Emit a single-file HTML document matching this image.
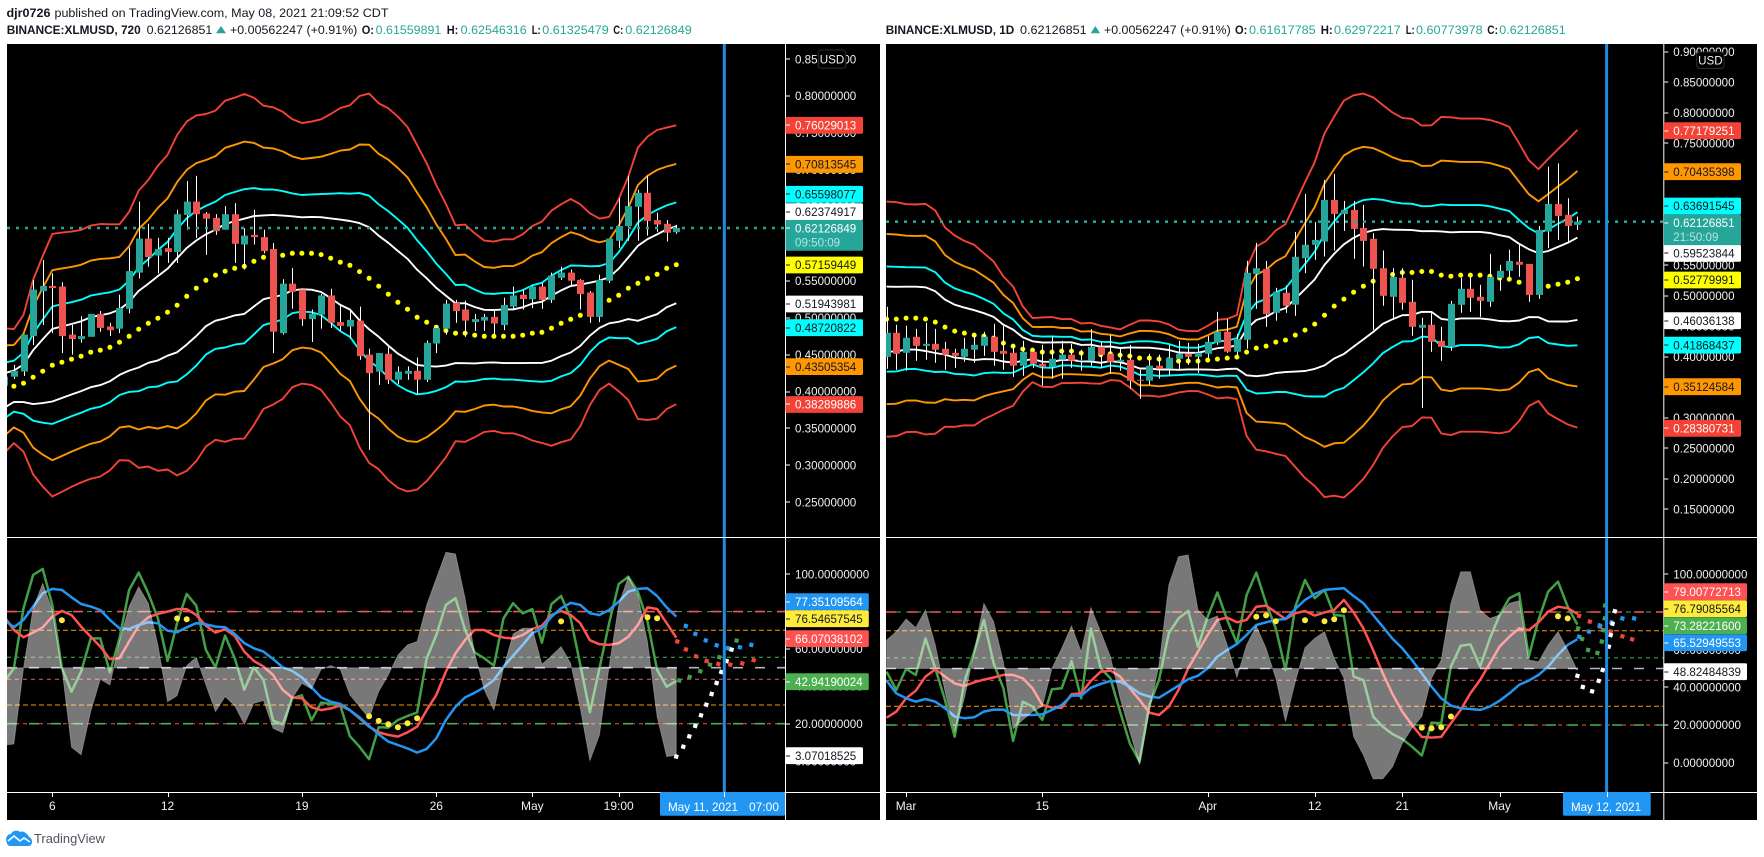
<!DOCTYPE html>
<html lang="en">
<head>
<meta charset="utf-8">
<title>XLMUSD charts</title>
<style>
html,body{margin:0;padding:0;background:#fff;}
svg{display:block;font-family:"Liberation Sans",sans-serif;}
</style>
</head>
<body>
<svg id="root" xmlns="http://www.w3.org/2000/svg" width="1764" height="857" viewBox="0 0 1764 857">
  <rect x="0" y="0" width="1764" height="857" fill="#ffffff"/>
  <g font-size="12.4" fill="#131722">
    <text x="6.5" y="17" font-weight="bold" textLength="44" lengthAdjust="spacingAndGlyphs">djr0726</text>
    <text x="54.5" y="17" textLength="334" lengthAdjust="spacingAndGlyphs">published on TradingView.com, May 08, 2021 21:09:52 CDT</text>
  </g>
  <g font-size="12.2" fill="#131722">
    <text x="6.7" y="34" font-weight="bold" textLength="134" lengthAdjust="spacingAndGlyphs">BINANCE:XLMUSD, 720</text>
    <text x="146.7" y="34" textLength="65.6" lengthAdjust="spacingAndGlyphs">0.62126851</text>
    <polygon points="216,33.3 221,26 226,33.3" fill="#26a69a"/>
    <text x="230" y="34" textLength="127.3" lengthAdjust="spacingAndGlyphs">+0.00562247 (+0.91%)</text>
    <text x="361.7" y="34" font-weight="bold" textLength="12.3" lengthAdjust="spacingAndGlyphs">O:</text>
    <text x="375.7" y="34" fill="#26a69a" textLength="65.6" lengthAdjust="spacingAndGlyphs">0.61559891</text>
    <text x="446.7" y="34" font-weight="bold" textLength="11.6" lengthAdjust="spacingAndGlyphs">H:</text>
    <text x="460.7" y="34" fill="#26a69a" textLength="66" lengthAdjust="spacingAndGlyphs">0.62546316</text>
    <text x="531.7" y="34" font-weight="bold" textLength="9" lengthAdjust="spacingAndGlyphs">L:</text>
    <text x="542.3" y="34" fill="#26a69a" textLength="66.4" lengthAdjust="spacingAndGlyphs">0.61325479</text>
    <text x="613.3" y="34" font-weight="bold" textLength="10" lengthAdjust="spacingAndGlyphs">C:</text>
    <text x="625.3" y="34" fill="#26a69a" textLength="66.4" lengthAdjust="spacingAndGlyphs">0.62126849</text>
  </g>
  <g font-size="12.2" fill="#131722">
    <text x="885.7" y="34" font-weight="bold" textLength="128.6" lengthAdjust="spacingAndGlyphs">BINANCE:XLMUSD, 1D</text>
    <text x="1020" y="34" textLength="66.7" lengthAdjust="spacingAndGlyphs">0.62126851</text>
    <polygon points="1090.7,33.3 1095.4,26 1100,33.3" fill="#26a69a"/>
    <text x="1104" y="34" textLength="126.7" lengthAdjust="spacingAndGlyphs">+0.00562247 (+0.91%)</text>
    <text x="1235" y="34" font-weight="bold" textLength="12.3" lengthAdjust="spacingAndGlyphs">O:</text>
    <text x="1249" y="34" fill="#26a69a" textLength="66.7" lengthAdjust="spacingAndGlyphs">0.61617785</text>
    <text x="1320.7" y="34" font-weight="bold" textLength="12" lengthAdjust="spacingAndGlyphs">H:</text>
    <text x="1334" y="34" fill="#26a69a" textLength="66.7" lengthAdjust="spacingAndGlyphs">0.62972217</text>
    <text x="1405.7" y="34" font-weight="bold" textLength="9" lengthAdjust="spacingAndGlyphs">L:</text>
    <text x="1416" y="34" fill="#26a69a" textLength="66.7" lengthAdjust="spacingAndGlyphs">0.60773978</text>
    <text x="1487.3" y="34" font-weight="bold" textLength="10.7" lengthAdjust="spacingAndGlyphs">C:</text>
    <text x="1499.3" y="34" fill="#26a69a" textLength="66.4" lengthAdjust="spacingAndGlyphs">0.62126851</text>
  </g>
  <g>
    <path d="M6.5 842 C5 837 8 834 11 834 C13 830 18 830 20 832 C23 830 28 834 29 837 C32 838 33 842 31 845 C30 846 29 846 28 846 L10 846 C8 846 7 844 6.5 842 Z" fill="#2196f3"/>
    <path d="M8 841 L14 836 L20 841 L24 838 L30 842" fill="none" stroke="#ffffff" stroke-width="1.6"/>
    <text x="34" y="843" font-size="13" fill="#50535e" textLength="71" lengthAdjust="spacingAndGlyphs">TradingView</text>
  </g>
  <defs>
    <clipPath id="clip-l-main"><rect x="7" y="44" width="778" height="493"/></clipPath>
    <clipPath id="clip-l-osc"><rect x="7" y="538" width="778" height="254"/></clipPath>
    <clipPath id="clip-r-main"><rect x="886" y="44" width="777.3" height="493"/></clipPath>
    <clipPath id="clip-r-osc"><rect x="886" y="538" width="777.3" height="254"/></clipPath>
  </defs>
</svg>
<script>
/* ---------- LEFT CHART (720 minute) ---------- */
const L_OPEN = [.408,.420,.427,.475,.536,.543,.542,.477,.471,.474,
.505,.488,.485,.512,.561,.607,.584,.594,.589,.639,
.657,.641,.635,.619,.640,.599,.612,.609,.593,.479,
.546,.538,.498,.504,.530,.494,.488,.496,.450,.427,
.451,.416,.424,.428,.416,.465,.485,.520,.511,.494,
.496,.501,.490,.515,.531,.525,.542,.524,.554,.561,
.551,.534,.501,.550,.604,.624,.650,.669,.632,.627,.6156];
const L_HIGH = [.425,.436,.477,.551,.578,.560,.548,.490,.502,.505,
.509,.493,.531,.595,.657,.627,.608,.608,.646,.685,
.692,.643,.640,.651,.655,.621,.646,.619,.601,.552,
.567,.538,.511,.532,.539,.517,.511,.515,.458,.452,
.460,.434,.434,.446,.469,.490,.524,.524,.523,.505,
.505,.511,.527,.542,.538,.543,.547,.561,.569,.565,
.552,.536,.558,.607,.662,.692,.673,.692,.642,.632,.6255];
const L_LOW = [.402,.417,.421,.463,.490,.479,.452,.450,.466,.474,
.481,.475,.479,.506,.553,.569,.560,.574,.574,.619,
.608,.585,.612,.619,.574,.565,.599,.587,.452,.477,
.512,.489,.467,.485,.486,.482,.472,.443,.321,.409,
.410,.410,.416,.396,.413,.452,.477,.493,.474,.482,
.482,.477,.483,.511,.511,.513,.512,.520,.551,.544,
.511,.493,.494,.547,.594,.604,.604,.611,.616,.603,.6133];
const L_CLOSE = [.420,.428,.477,.538,.543,.540,.475,.471,.475,.505,
.486,.483,.513,.563,.607,.582,.593,.589,.640,.657,
.640,.634,.617,.640,.600,.611,.609,.590,.481,.546,
.535,.498,.505,.530,.493,.489,.497,.448,.425,.452,
.416,.427,.428,.416,.466,.486,.519,.509,.496,.498,
.501,.492,.517,.530,.525,.542,.524,.557,.561,.550,
.532,.501,.551,.607,.624,.651,.669,.631,.626,.615,.6213];
const L_BASIS = [.4013,.4072,.4112,.4194,.4275,.4356,.4397,.4437,.4478,.4532,
.4559,.4599,.4667,.4748,.4843,.4924,.4992,.5073,.5168,.5289,
.5398,.5506,.5574,.5628,.5668,.5695,.5763,.5817,.5835,.5844,
.5871,.5871,.5871,.5853,.5804,.5750,.5709,.5623,.5533,.5425,
.5317,.5208,.5114,.5005,.4938,.4870,.4825,.4789,.4789,.4762,
.4748,.4748,.4748,.4748,.4762,.4789,.4802,.4857,.4924,.4978,
.5032,.5114,.5181,.5235,.5303,.5398,.5465,.5533,.5587,.5668,.5716];
const L_RED_UPPER = [.4857,.4843,.5037,.5510,.5835,.6133,.6151,.6164,.6187,.6246,
.6268,.6264,.6264,.6431,.6719,.6863,.7057,.7202,.7472,.7653,
.7738,.7756,.7802,.7937,.7977,.8027,.7977,.7869,.7847,.7788,
.7684,.7635,.7653,.7684,.7756,.7838,.7874,.8000,.8032,.7901,
.7833,.7720,.7581,.7337,.7089,.6796,.6539,.6250,.6259,.6142,
.6043,.6029,.6061,.6061,.6128,.6241,.6300,.6449,.6534,.6606,
.6534,.6412,.6340,.6363,.6602,.6909,.7301,.7450,.7540,.7572,.7603];
const L_GREEN = [42.5,49.7,81.8,99.6,102.9,83.6,49.7,37.2,47.9,65.7,
65.7,47.5,65.7,91.6,100.9,89.8,76.4,53.6,73.8,89.5,
83.2,59.5,50.2,67.2,55.0,38.2,50.2,43.4,21.6,19.7,
33.6,35.2,21.8,31.3,30.6,29.7,13.3,7.7,1.0,18.1,
17.9,22.0,24.1,26.0,55.0,67.5,83.6,87.2,70.2,58.2,
55.0,51.1,76.4,84.5,79.1,81.4,63.4,84.1,88.4,76.4,
51.5,26.1,49.7,73.8,94.8,98.7,90.7,74.7,48.8,39.8,42.94];
const L_RED = [77.3,70.2,66.3,68.8,71.6,77.3,80.4,78.2,72.0,66.6,
61.3,54.6,55.0,64.0,72.5,77.0,78.8,80.0,81.4,81.3,
78.2,72.5,68.8,70.6,67.0,58.6,53.6,50.6,46.1,38.1,
34.0,33.6,28.8,27.3,28.2,29.8,27.2,22.9,18.4,15.4,
14.0,13.1,15.4,18.4,27.3,35.4,47.9,57.7,64.8,70.2,
70.2,67.5,66.1,65.6,67.5,70.7,72.5,78.2,80.4,78.2,
73.8,64.7,62.5,62.2,63.1,66.6,72.9,82.3,81.4,73.8,66.07];
const L_BLUE = [75.6,71.6,75.6,82.7,89.8,92.2,91.6,87.7,84.1,82.7,
80.9,75.6,71.1,70.7,72.9,74.3,73.8,69.8,69.0,71.6,
73.8,73.2,72.0,71.6,68.1,63.1,60.4,58.6,54.6,50.2,
48.2,44.8,39.5,34.1,31.8,30.6,27.3,23.4,18.8,14.3,
10.4,8.6,6.8,4.5,6.5,12.2,22.0,29.1,34.1,36.6,
39.5,43.4,50.6,56.4,62.2,68.4,71.1,77.3,81.8,84.7,
83.6,79.1,78.2,80.9,85.4,90.7,92.2,92.5,88.4,82.3,77.35];
const L_GRAY = [8.6,9.1,49.7,81.8,95.2,80.9,49.7,7.4,3.3,26.5,
43.8,40.7,64.0,82.7,93.4,84.5,62.2,31.8,35.0,51.1,
55.6,40.7,26.5,34.5,29.7,19.7,30.9,32.4,17.5,15.2,
33.6,41.6,38.6,49.1,51.1,49.1,35.4,29.1,22.9,37.2,
46.1,56.8,62.2,64.0,83.6,97.8,111.8,110.9,87.2,57.7,
38.1,27.3,49.7,68.1,71.1,71.1,51.8,56.4,61.3,52.3,
28.2,0.2,14.0,50.6,83.6,98.7,88.9,64.0,23.8,2.4,3.07];
const L_SIGNAL_BARS = [6,18,19,38,39,40,41,42,43,58,67,68];
const L_SIGNAL_VALUES = [75.4,76.4,75.9,24.0,21.5,19.7,18.1,20.2,22.9,74.8,77.0,76.5];
const L_FC_BLUE_AHEAD = [.99,1.98,3.06,4.2,5.45,6.63,7.81];
const L_FC_BLUE = [72.3,68.1,64.6,62.0,60.4,60.9,62.2];
const L_FC_RED_AHEAD = [.1,1,2.05,3.16,4.38,5.63,6.88,8.06];
const L_FC_RED = [64.0,59.8,56.1,53.6,52.0,51.6,52.3,54.0];
const L_FC_GREEN_AHEAD = [.31,1.39,2.5,3.51,4.48,5.35,6.28];
const L_FC_GREEN = [43.2,45.0,48.1,51.6,55.6,60.4,64.5];
const L_FC_WHITE_AHEAD = [0,.73,1.35,1.98,2.57,3.13,3.68,4.2,4.69,5.24,5.76];
const L_FC_WHITE = [2.4,7.7,13.2,18.8,24.5,30.2,35.9,41.8,47.7,53.6,59.7];
const L_PRICE_TICKS = [.85,.80,.75,.70,.65,.60,.55,.50,.45,.40,.35,.30,.25];
const L_OSC_TICKS = [100,80,60,40,20,0];
const L_XTICK_BARS = [5,17,31,45,55,64];
const L_XTICK_LABELS = ['6','12','19','26','May','19:00'];
const L_PRICE_LABELS = [0.76029013,0.70813545,0.65598077,0.62374917,0.57159449,0.51943981,0.48720822,0.43505354,0.38289886];
const L_OSC_LABELS = [77.35109564,76.54657545,66.07038102,42.94190024,3.07018525];
const L_LAST = 0.62126849;

/* ---------- RIGHT CHART (1 day) ---------- */
const R_OPEN = [.3999,.4392,.4064,.4327,.4179,.4212,.4130,.4064,.3999,.4114,
.4179,.4327,.4097,.4064,.3852,.4081,.3884,.3835,.3950,.4032,
.3933,.3933,.4163,.4048,.3917,.3950,.3622,.3606,.3852,.3802,
.3966,.4048,.3999,.4048,.4228,.4408,.4081,.4277,.5358,.5440,
.4720,.5047,.4851,.5615,.5834,.5888,.6571,.6341,.6407,.6112,
.5932,.5451,.4982,.5293,.4900,.4474,.4523,.4261,.4163,.4851,
.5113,.4982,.4900,.5293,.5408,.5555,.5522,.5014,.6052,.6505,
.6325,.6162];
const R_HIGH = [.4818,.4523,.4507,.4458,.4556,.4458,.4245,.4130,.4310,.4359,
.4408,.4539,.4507,.4195,.4261,.4130,.4195,.4343,.4261,.4212,
.4114,.4452,.4245,.4354,.4130,.4195,.3786,.4048,.4032,.4195,
.4261,.4228,.4212,.4337,.4736,.4616,.4376,.5571,.5866,.5571,
.5129,.5162,.6046,.6669,.6210,.6898,.6996,.6554,.6554,.6489,
.6025,.5741,.5451,.5451,.5260,.4638,.4720,.4490,.4916,.5293,
.5309,.5178,.5686,.5506,.5752,.5834,.5522,.6145,.7117,.7171,
.6598,.6297];
const R_LOW = [.3802,.3786,.3770,.3933,.3950,.3901,.3786,.3819,.3917,.3901,
.4015,.3852,.3786,.3671,.3688,.3819,.3524,.3639,.3639,.3819,
.3770,.3852,.3819,.3720,.3770,.3475,.3311,.3540,.3639,.3688,
.3770,.3868,.3737,.3950,.4195,.4064,.4015,.4130,.4785,.4490,
.4589,.4720,.4671,.5369,.5588,.5642,.5741,.6063,.5604,.5479,
.4441,.4834,.4638,.4769,.4343,.3158,.4081,.3933,.4097,.4720,
.4736,.4654,.4818,.5080,.5260,.5309,.4900,.4949,.5779,.5915,
.5861,.6077];
const R_CLOSE = [.4392,.4048,.4310,.4179,.4212,.4114,.4032,.4015,.4130,.4195,
.4327,.4081,.4048,.3852,.4081,.3884,.3835,.3966,.4032,.3933,
.3944,.4163,.4032,.3917,.3950,.3606,.3606,.3852,.3802,.3983,
.4048,.3999,.4064,.4245,.4408,.4081,.4294,.5375,.5451,.4703,
.5064,.4834,.5637,.5834,.5915,.6571,.6341,.6407,.6096,.5899,
.5440,.4998,.5309,.4883,.4490,.4523,.4245,.4163,.4867,.5113,
.4965,.4916,.5309,.5408,.5571,.5506,.5014,.6079,.6505,.6309,
.6145,.6213];
const R_BASIS = [.4616,.4616,.4632,.4632,.4616,.4567,.4485,.4419,.4387,.4354,
.4337,.4305,.4223,.4174,.4125,.4108,.4075,.4075,.4092,.4092,
.4059,.4059,.4032,.4048,.4026,.4010,.3977,.3977,.3961,.3950,
.3928,.3928,.3928,.3944,.3961,.3977,.3993,.4075,.4141,.4174,
.4239,.4272,.4354,.4436,.4534,.4681,.4829,.4944,.5058,.5156,
.5238,.5315,.5348,.5380,.5380,.5397,.5397,.5337,.5320,.5337,
.5337,.5337,.5320,.5288,.5271,.5222,.5206,.5173,.5156,.5189,
.5222,.5278];
const R_RED_UPPER = [.6544,.6533,.6500,.6495,.6506,.6396,.6118,.5987,.5899,.5834,
.5697,.5561,.5315,.5151,.4824,.4633,.4644,.4649,.4616,.4616,
.4545,.4556,.4507,.4480,.4447,.4524,.4594,.4594,.4578,.4529,
.4442,.4420,.4420,.4507,.4605,.4622,.4682,.5452,.5807,.5899,
.6069,.6172,.6516,.6860,.7188,.7663,.7936,.8198,.8285,.8313,
.8253,.8127,.8002,.7914,.7898,.7789,.7794,.7931,.7925,.7903,
.7903,.7903,.7881,.7832,.7767,.7499,.7221,.7073,.7243,.7401,
.7554,.7718];
const R_GREEN = [48.3,38.6,49.8,46.6,66.0,50.1,33.3,13.8,43.0,59.0,
75.8,52.8,39.5,11.5,32.4,29.8,22.7,39.0,39.5,54.0,
34.2,71.3,50.1,44.8,27.1,10.3,0.6,30.6,43.9,68.7,
76.6,80.5,61.6,77.5,90.4,75.8,63.4,89.0,100.9,84.6,
71.3,49.2,82.8,97.0,87.3,91.7,78.4,77.9,45.7,43.9,
24.5,19.1,15.2,12.6,8.5,3.8,21.3,20.9,51.0,62.1,
62.8,51.0,66.0,78.4,87.3,89.9,56.3,75.8,90.8,96.1,
82.8,73.28];
const R_RED = [23.9,27.1,34.2,38.2,45.7,49.6,45.7,42.1,40.7,42.7,
44.1,45.2,46.6,46.6,44.8,39.5,30.6,29.2,29.2,36.3,
36.9,43.4,48.3,48.9,45.7,39.5,33.3,26.6,25.3,29.8,
38.6,50.1,59.0,67.8,75.8,77.0,74.5,75.8,82.8,83.4,
79.8,76.3,79.3,80.5,78.1,79.8,81.1,86.4,79.8,71.3,
59.8,47.4,36.3,27.1,20.0,13.7,13.3,13.7,20.9,28.0,
36.9,43.9,52.8,61.6,66.9,71.3,70.4,74.5,80.2,82.8,
82.0,79.0];
const R_BLUE = [43.6,36.8,34.2,32.4,33.8,32.4,28.9,24.5,23.6,24.1,
27.1,28.2,28.2,25.3,25.3,25.3,25.7,28.0,30.6,35.6,
35.6,39.8,41.8,43.4,43.0,40.4,36.8,35.1,34.5,37.7,
40.9,44.3,46.2,50.1,56.3,59.8,63.0,67.8,73.1,74.5,
75.8,76.3,81.6,86.4,89.6,91.7,92.2,92.6,88.5,84.6,
78.4,72.2,65.7,60.7,54.5,47.4,40.4,34.2,30.3,28.9,
28.5,28.0,29.8,32.9,36.8,41.3,43.6,46.6,51.0,57.2,
62.5,65.53];
const R_GRAY = [65.1,69.6,76.3,71.7,81.1,62.5,37.7,16.5,34.2,59.0,
84.6,74.9,53.6,17.9,22.7,27.1,29.8,50.1,60.7,72.6,
59.0,82.3,69.6,56.3,34.2,16.5,-1.2,27.1,51.9,94.3,
109.4,110.3,81.1,75.8,77.9,62.5,45.2,62.5,72.6,60.7,
44.8,21.8,43.0,61.1,66.0,69.6,55.4,44.8,13.8,4.1,
-8.6,-8.6,-2.1,10.3,18.3,24.5,44.8,54.5,84.6,101.4,
101.4,81.1,76.6,78.4,84.6,86.0,54.5,53.6,62.5,69.6,
59.8,48.82];
const R_SIGNAL_BARS = [38,39,40,43,45,46,47,55,56,57,58,69,70];
const R_SIGNAL_VALUES = [77.5,78.2,75.1,75.6,75.1,76.1,80.9,18.6,18.2,18.8,24.5,77.7,76.6];
const R_FC_BLUE_AHEAD = [.17,1.2,2.29,3.49,4.62,5.82];
const R_FC_BLUE = [66.9,69.6,72.8,74.5,76.6,76.6];
const R_FC_RED_AHEAD = [.17,1.27,2.33,3.42,4.62,5.62];
const R_FC_RED = [77.9,74.9,72.2,69.6,67.1,65.5];
const R_FC_GREEN_AHEAD = [.07,.48,1.1,2.05,2.5,2.64,2.81,2.84];
const R_FC_GREEN = [71.3,65.7,59.8,58.3,64.3,70.4,76.6,83.4];
const R_FC_WHITE_AHEAD = [0,.55,1.51,2.19,2.6,3.22,3.42,3.6,3.84];
const R_FC_WHITE = [46.1,40.2,37.9,43.4,49.2,61.6,67.8,73.8,80.4];
const R_PRICE_TICKS = [.90,.85,.80,.75,.70,.65,.60,.55,.50,.45,.40,.35,.30,.25,.20,.15];
const R_OSC_TICKS = [100,80,60,40,20,0];
const R_XTICK_BARS = [2,16,33,44,53,63];
const R_XTICK_LABELS = ['Mar','15','Apr','12','21','May'];
const R_PRICE_LABELS = [0.77179251,0.70435398,0.63691545,0.59523844,0.52779991,0.46036138,0.41868437,0.35124584,0.28380731];
const R_OSC_LABELS = [79.00772713,76.79085564,73.28221600,65.52949553,48.82484839];
const R_LAST = 0.62126851;

/* ---------- shared ---------- */
const BAND_RATIOS = [1, 1.618, 2.618, 3.618];
const OSC_LEVELS = [80, 70, 55.6, 50, 43.8, 30, 20];

const NS = 'http://www.w3.org/2000/svg';
const root = document.getElementById('root');
function mk(tag, attrs, parent) {
  const el = document.createElementNS(NS, tag);
  for (const k in attrs) el.setAttribute(k, attrs[k]);
  (parent || root).appendChild(el);
  return el;
}
function lineD(vals, xf, yf) {
  return vals.map((v, i) => (i ? 'L' : 'M') + xf(i).toFixed(1) + ' ' + yf(v).toFixed(1)).join(' ');
}

function drawChart(c) {
  const panel = mk('g', {});
  
  

  const bg = mk('rect', {x: c.left, y: 44, width: c.right - c.left, height: 776, fill: '#000'}, panel);
  
  

  const xs = i => c.x0 + c.step * i;
  const py = p => c.p0 + (c.pRef - p) * c.pScale;
  const oy = v => 574.3 + (100 - v) * c.oScale;
  const n = c.basis.length;

  /* ===== main pane ===== */
  const main = mk('g', {'clip-path': 'url(#clip-' + c.short + '-main)'}, panel);
  
  

  const dev = c.redUpper.map((r, i) => (r - c.basis[i]) / BAND_RATIOS[3]);
  const bandColors = ['#ffffff', '#00ffff', '#ff9800', '#f44336'];
  const bandNames = ['white', 'cyan', 'orange', 'red'];
  BAND_RATIOS.forEach((ratio, k) => {
    [1, -1].forEach(sign => {
      const vals = c.basis.map((b, i) => b + sign * ratio * dev[i]);
      const path = mk('path', {d: lineD(vals, xs, py), fill: 'none', stroke: bandColors[k], 'stroke-width': 1.9, 'stroke-linejoin': 'round'}, main);
      
      
    });
  });

  c.basis.forEach((b, i) => {
    const dot = mk('circle', {cx: xs(i).toFixed(1), cy: py(b).toFixed(1), r: 2.5, fill: '#ffff00'}, main);
    
    
  });

  for (let i = 0; i < n; i++) {
    const up = c.close[i] >= c.open[i];
    const cx = Math.round(xs(i));
    const wick = mk('rect', {x: cx, y: py(c.high[i]).toFixed(1), width: 1, height: (py(c.low[i]) - py(c.high[i])).toFixed(1), fill: '#fff'}, main);
    
    
    const top = py(Math.max(c.open[i], c.close[i]));
    const bot = py(Math.min(c.open[i], c.close[i]));
    const body = mk('rect', {x: cx - 3, y: top.toFixed(1), width: 7, height: Math.max(1, bot - top).toFixed(1), fill: up ? '#26a69a' : '#ef5350'}, main);
    
    
  }

  /* ===== oscillator pane ===== */
  const osc = mk('g', {'clip-path': 'url(#clip-' + c.short + '-osc)'}, panel);
  
  

  const levelStyles = [
    [['#4caf50', '5 5', 1], ['#ff5252', '10 12', 1.6]],
    [['#ff9800', '5 3', 1]],
    [['#4caf50', '4 4', 1]],
    [['#b2b5be', '10 12', 1.6]],
    [['#ff5252', '4 4', 1]],
    [['#ff9800', '5 3', 1]],
    [['#ff5252', '4 4', 1], ['#4caf50', '10 12', 1.6]]
  ];
  OSC_LEVELS.forEach((lv, k) => {
    levelStyles[k].forEach(st => {
      const ln = mk('line', {x1: c.left, x2: c.axisX, y1: oy(lv).toFixed(1), y2: oy(lv).toFixed(1), stroke: st[0], 'stroke-dasharray': st[1], 'stroke-width': st[2]}, osc);
      
      
    });
  });

  const oscSeries = [[c.green, '#43a047', 'green'], [c.red, '#ff5252', 'red'], [c.blue, '#2196f3', 'blue']];
  oscSeries.forEach(s => {
    const path = mk('path', {d: lineD(s[0], xs, oy), fill: 'none', stroke: s[1], 'stroke-width': 2.5, 'stroke-linejoin': 'round'}, osc);
    
    
  });

  const y50 = oy(50).toFixed(1);
  const grayD = 'M' + xs(0).toFixed(1) + ' ' + y50 + ' ' + c.gray.map((v, i) => 'L' + xs(i).toFixed(1) + ' ' + oy(v).toFixed(1)).join(' ') + ' L' + xs(n - 1).toFixed(1) + ' ' + y50 + ' Z';
  const area = mk('path', {d: grayD, fill: 'rgba(255,255,255,0.47)', stroke: 'rgba(255,255,255,0.25)', 'stroke-width': 1}, osc);
  
  

  c.signalBars.forEach((b, k) => {
    const dot = mk('circle', {cx: xs(b).toFixed(1), cy: oy(c.signalValues[k]).toFixed(1), r: 3, fill: '#ffeb3b'}, osc);
    
    
  });

  c.forecasts.forEach(f => {
    f.values.forEach((v, k) => {
      const fx = xs(n - 1) + f.ahead[k] * c.step;
      const fy = oy(v);
      const d = mk('rect', {x: (fx - 2.1).toFixed(1), y: (fy - 2.1).toFixed(1), width: 4.2, height: 4.2, fill: f.color, transform: 'rotate(15 ' + fx.toFixed(1) + ' ' + fy.toFixed(1) + ')'}, osc);
      
      
    });
  });

  /* ===== crosshair + last price line ===== */
  const vx = xs(c.crossBar);
  const cross = mk('rect', {x: (vx - 1.5).toFixed(1), y: 44, width: 3, height: 748, fill: '#1f8ae0'}, panel);
  
  

  const lastLine = mk('line', {x1: c.left, x2: c.axisX, y1: py(c.last).toFixed(1), y2: py(c.last).toFixed(1), stroke: '#26a69a', 'stroke-width': 2.6, 'stroke-dasharray': '3 6'}, panel);
  
  

  /* ===== frame lines ===== */
  const sep = mk('rect', {x: c.left, y: 537, width: c.right - c.left, height: 1, fill: '#fff'}, panel);
  
  
  const xLine = mk('rect', {x: c.left, y: 792, width: c.right - c.left, height: 1, fill: '#fff'}, panel);
  
  
  const yLine = mk('rect', {x: c.axisX, y: 44, width: 1, height: 776, fill: '#fff'}, panel);
  
  

  const textX = c.axisX + 10;
  function tick(y, color) {
    const t = mk('rect', {x: c.axisX + 1, y: (Math.round(y) - 0.5), width: 4, height: 1, fill: color}, panel);
    
    
  }
  function tickLabel(y, str, name) {
    tick(y, '#ffffff');
    const t = mk('text', {x: textX, y: (y + 4.2).toFixed(1), 'font-size': 11.6, fill: '#f0f0f0'}, panel);
    t.textContent = str;
    
    
  }
  c.priceTicks.forEach(p => tickLabel(py(p), p.toFixed(8), c.id + '-price-tick-label'));
  c.oscTicks.forEach(v => tickLabel(oy(v), v.toFixed(8), c.id + '-oscillator-tick-label'));

  /* ===== coloured value labels ===== */
  function valueLabel(y, str, st, width, name) {
    const b = mk('rect', {x: c.axisX + 0.5, y: (y - 8.4).toFixed(1), width: width, height: 16.8, fill: st.bg, rx: 1.5}, panel);
    
    
    tick(y, st.fg);
    const t = mk('text', {x: textX, y: (y + 4.2).toFixed(1), 'font-size': 11.6, fill: st.fg}, panel);
    t.textContent = str;
    
    
  }
  c.priceLabels.forEach((v, k) => {
    const st = c.priceStyles[k];
    valueLabel(py(v) + st.dy, v.toFixed(8), st, c.priceBoxW, c.id + '-price-value-label');
  });
  c.oscLabels.forEach((v, k) => {
    const st = c.oscStyles[k];
    valueLabel(oy(v) + st.dy, v.toFixed(8), st, st.w, c.id + '-oscillator-value-label');
  });

  /* current price box */
  const lastY = py(c.last) + c.lastDy;
  const box = mk('rect', {x: c.axisX + 0.5, y: (lastY - 8.3).toFixed(1), width: c.priceBoxW, height: 30.7, fill: '#26a69a', rx: 1.5}, panel);
  
  
  tick(lastY, '#ffffff');
  const lastText = mk('text', {x: textX, y: (lastY + 4.2).toFixed(1), 'font-size': 11.6, fill: '#fff'}, panel);
  lastText.textContent = c.last.toFixed(8);
  
  
  const cd = mk('text', {x: textX, y: (lastY + 18.2).toFixed(1), 'font-size': 11.6, fill: 'rgba(255,255,255,0.68)'}, panel);
  cd.textContent = c.countdown;
  
  

  /* USD button */
  const usd = mk('rect', {x: c.usd[0], y: c.usd[1], width: c.usd[2], height: c.usd[3], rx: 3, fill: '#000', stroke: '#2a2e39'}, panel);
  
  
  const usdT = mk('text', {x: c.usd[0] + c.usd[2] / 2, y: c.usd[1] + c.usd[3] / 2 + 4.2, 'font-size': 11.6, fill: '#f0f0f0', 'text-anchor': 'middle'}, panel);
  usdT.textContent = 'USD';
  
  

  /* time axis */
  c.xBars.forEach((b, k) => {
    const tx = xs(b);
    const tm = mk('rect', {x: Math.round(tx), y: 793, width: 1, height: 4, fill: '#fff'}, panel);
    
    
    const tl = mk('text', {x: tx.toFixed(1), y: 810, 'font-size': 12, fill: '#f0f0f0', 'text-anchor': 'middle'}, panel);
    tl.textContent = c.xLabels[k];
    
    
  });

  const dl = mk('rect', {x: c.dateBox[0], y: 792, width: c.dateBox[1], height: 23.7, fill: '#2196f3', rx: 1.5}, panel);
  
  
  const dtm = mk('rect', {x: Math.round(vx), y: 792, width: 1, height: 5, fill: '#fff'}, panel);
  
  
  c.dateTexts.forEach(d => {
    const t = mk('text', {x: d[1], y: 811.2, 'font-size': 12, fill: '#fff', textLength: d[2], lengthAdjust: 'spacingAndGlyphs'}, panel);
    t.textContent = d[0];
    
    
  });
}

const WH = {bg: '#ffffff', fg: '#131722'};

drawChart({
  id: 'left', short: 'l', left: 7, right: 880, axisX: 785,
  x0: 4.3, step: 9.6, p0: 96, pRef: 0.8, pScale: 738.8, oScale: 1.8675,
  open: L_OPEN, high: L_HIGH, low: L_LOW, close: L_CLOSE, basis: L_BASIS, redUpper: L_RED_UPPER,
  green: L_GREEN, red: L_RED, blue: L_BLUE, gray: L_GRAY,
  signalBars: L_SIGNAL_BARS, signalValues: L_SIGNAL_VALUES,
  forecasts: [
    {name: 'green', color: '#43a047', ahead: L_FC_GREEN_AHEAD, values: L_FC_GREEN},
    {name: 'red', color: '#f44336', ahead: L_FC_RED_AHEAD, values: L_FC_RED},
    {name: 'blue', color: '#2196f3', ahead: L_FC_BLUE_AHEAD, values: L_FC_BLUE},
    {name: 'white', color: '#ffffff', ahead: L_FC_WHITE_AHEAD, values: L_FC_WHITE}
  ],
  crossBar: 75, last: L_LAST, lastDy: 0.3, countdown: '09:50:09',
  priceTicks: L_PRICE_TICKS, oscTicks: L_OSC_TICKS,
  priceLabels: L_PRICE_LABELS, priceBoxW: 77.5,
  priceStyles: [
    {bg: '#f44336', fg: '#fff', dy: 0}, {bg: '#ff9800', fg: '#131722', dy: 0.4},
    {bg: '#00ffff', fg: '#131722', dy: -8.1}, {bg: WH.bg, fg: WH.fg, dy: -14.5},
    {bg: '#ffff00', fg: '#131722', dy: 0.3}, {bg: WH.bg, fg: WH.fg, dy: 0.7},
    {bg: '#00ffff', fg: '#131722', dy: 0.6}, {bg: '#ff9800', fg: '#131722', dy: 1},
    {bg: '#f44336', fg: '#fff', dy: 0.3}
  ],
  oscLabels: L_OSC_LABELS,
  oscStyles: [
    {bg: '#2196f3', fg: '#fff', dy: -14.9, w: 83.3}, {bg: '#ffeb3b', fg: '#131722', dy: 0.6, w: 83.3},
    {bg: '#ff5252', fg: '#fff', dy: 1, w: 83.3}, {bg: '#4caf50', fg: '#fff', dy: 0.8, w: 83.3},
    {bg: WH.bg, fg: WH.fg, dy: 0.4, w: 77.5}
  ],
  usd: [818.3, 50, 27.4, 18.3],
  xBars: L_XTICK_BARS, xLabels: L_XTICK_LABELS,
  dateBox: [660, 125], dateTexts: [['May 11, 2021', 668, 70], ['07:00', 749, 30]]
});

drawChart({
  id: 'right', short: 'r', left: 886, right: 1757, axisX: 1663.3,
  x0: 886.6, step: 9.73, p0: 51.7, pRef: 0.9, pScale: 610, oScale: 1.884,
  open: R_OPEN, high: R_HIGH, low: R_LOW, close: R_CLOSE, basis: R_BASIS, redUpper: R_RED_UPPER,
  green: R_GREEN, red: R_RED, blue: R_BLUE, gray: R_GRAY,
  signalBars: R_SIGNAL_BARS, signalValues: R_SIGNAL_VALUES,
  forecasts: [
    {name: 'green', color: '#43a047', ahead: R_FC_GREEN_AHEAD, values: R_FC_GREEN},
    {name: 'red', color: '#f44336', ahead: R_FC_RED_AHEAD, values: R_FC_RED},
    {name: 'blue', color: '#2196f3', ahead: R_FC_BLUE_AHEAD, values: R_FC_BLUE},
    {name: 'white', color: '#ffffff', ahead: R_FC_WHITE_AHEAD, values: R_FC_WHITE}
  ],
  crossBar: 74, last: R_LAST, lastDy: 1, countdown: '21:50:09',
  priceTicks: R_PRICE_TICKS, oscTicks: R_OSC_TICKS,
  priceLabels: R_PRICE_LABELS, priceBoxW: 77.2,
  priceStyles: [
    {bg: '#f44336', fg: '#fff', dy: 0.8}, {bg: '#ff9800', fg: '#131722', dy: 0.7},
    {bg: '#00ffff', fg: '#131722', dy: -6.2}, {bg: WH.bg, fg: WH.fg, dy: 15.7},
    {bg: '#ffff00', fg: '#131722', dy: 1.3}, {bg: WH.bg, fg: WH.fg, dy: 0.8},
    {bg: '#00ffff', fg: '#131722', dy: -0.2}, {bg: '#ff9800', fg: '#131722', dy: 0.3},
    {bg: '#f44336', fg: '#fff', dy: 0.7}
  ],
  oscLabels: R_OSC_LABELS,
  oscStyles: [
    {bg: '#ff5252', fg: '#fff', dy: -22.1, w: 83.2}, {bg: '#ffeb3b', fg: '#131722', dy: -9.3, w: 83.2},
    {bg: '#4caf50', fg: '#fff', dy: 1.1, w: 83.2}, {bg: '#2196f3', fg: '#fff', dy: 3.5, w: 83.2},
    {bg: WH.bg, fg: WH.fg, dy: 1, w: 83.2}
  ],
  usd: [1696.7, 52, 27.3, 16.5],
  xBars: R_XTICK_BARS, xLabels: R_XTICK_LABELS,
  dateBox: [1563, 87.7], dateTexts: [['May 12, 2021', 1571, 70]]
});
</script>
</body>
</html>
